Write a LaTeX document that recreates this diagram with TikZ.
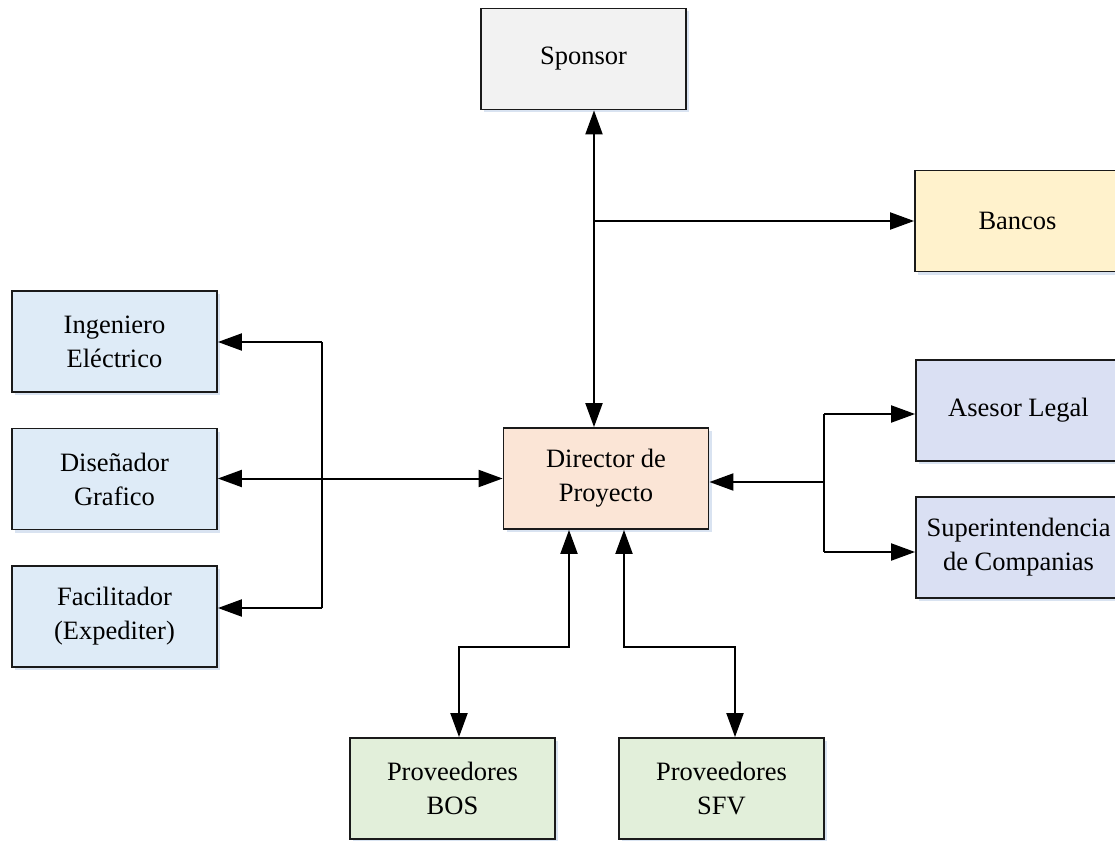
\documentclass[tikz,border=0pt]{standalone}
\usepackage{fontspec}
\setmainfont{Liberation Serif}
\usetikzlibrary{arrows.meta,shadows}
\definecolor{cSpon}{HTML}{F2F2F2}
\definecolor{cBanc}{HTML}{FFF2CC}
\definecolor{cLeft}{HTML}{DEEBF7}
\definecolor{cRight}{HTML}{DAE0F3}
\definecolor{cDir}{HTML}{FBE5D6}
\definecolor{cBot}{HTML}{E2EFDA}
\definecolor{cLine}{HTML}{1A1A1A}
\definecolor{cShadow}{HTML}{C9D8EC}
\tikzset{
  box/.style={rectangle, draw=cLine, line width=1.8pt, minimum width=205pt, minimum height=101pt,
    align=center, inner sep=0pt, font=\fontsize{26.5}{34}\selectfont,
    drop shadow={shadow xshift=3pt, shadow yshift=-3pt, fill=cShadow, opacity=0.7}},
  conn/.style={line width=2pt, draw=black},
  tip/.style={-{Triangle[length=24pt,width=17pt]}},
  tips/.style={{Triangle[length=24pt,width=17pt]}-{Triangle[length=24pt,width=17pt]}}
}
\begin{document}
\begin{tikzpicture}[x=1pt,y=-1pt]
\clip (0,0) rectangle (1115,840);
\fill[white] (0,0) rectangle (1115,840);
% nodes
\node[box, fill=cSpon] (spon) at (583.5,59) {Sponsor};
\node[box, fill=cBanc] (banc) at (1017.5,221) {Bancos};
\node[box, fill=cLeft] (ing) at (114.5,341.5) {Ingeniero\\Eléctrico};
\node[box, fill=cLeft] (dis) at (114.5,479) {Diseñador\\Grafico};
\node[box, fill=cLeft] (fac) at (114.5,616.5) {Facilitador\\(Expediter)};
\node[box, fill=cRight] (ase) at (1018.5,410.5) {Asesor Legal};
\node[box, fill=cDir] (dir) at (606,478.5) {Director de\\Proyecto};
\node[box, fill=cRight] (sup) at (1018.5,547.5) {Superintendencia\\de Companias};
\node[box, fill=cBot] (bos) at (452.5,788.5) {Proveedores\\BOS};
\node[box, fill=cBot] (sfv) at (721.5,788.5) {Proveedores\\SFV};
% junction coordinates
\coordinate (trunk) at (594,221);
\coordinate (lbt) at (322,342);
\coordinate (lbb) at (322,608);
\coordinate (rbm) at (824,482);
\coordinate (rbt) at (824,414);
\coordinate (rbb) at (824,552);
\coordinate (bl) at (569,647);
\coordinate (blx) at (459,647);
\coordinate (br) at (624,647);
\coordinate (brx) at (735,647);
% connectors
\draw[conn, tips] (spon.south -| trunk) -- (dir.north -| trunk);
\draw[conn, tip] (trunk) -- (trunk -| banc.west);
\draw[conn, tips] (dir.west) -- (dir.west -| dis.east);
\draw[conn] (lbt) -- (lbb);
\draw[conn, tip] (lbt) -- (lbt -| ing.east);
\draw[conn, tip] (lbb) -- (lbb -| fac.east);
\draw[conn, tip] (rbm) -- (rbm -| dir.east);
\draw[conn] (rbt) -- (rbb);
\draw[conn, tip] (rbt) -- (rbt -| ase.west);
\draw[conn, tip] (rbb) -- (rbb -| sup.west);
\draw[conn, tips] (dir.south -| bl) -- (bl) -- (blx) -- (blx |- bos.north);
\draw[conn, tips] (dir.south -| br) -- (br) -- (brx) -- (brx |- sfv.north);
\end{tikzpicture}
\end{document}
